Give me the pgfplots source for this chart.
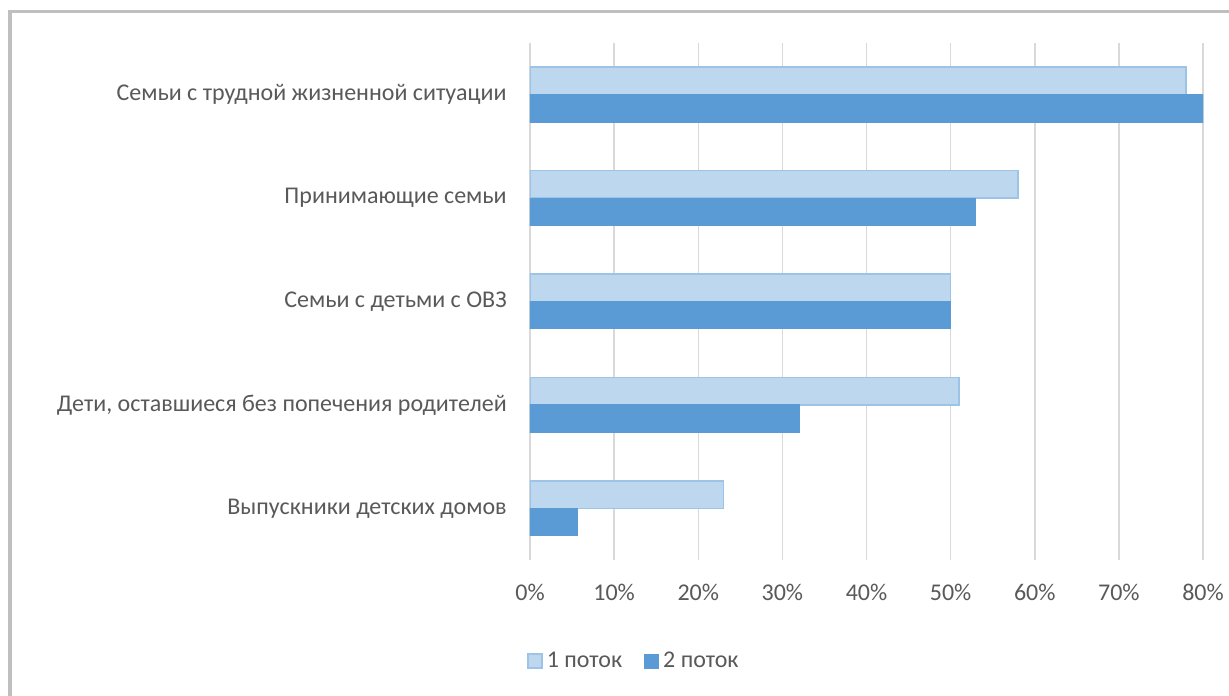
\documentclass[border=0pt]{standalone}
\usepackage{fontspec}
\setmainfont{Carlito}
\usepackage{pgfplots}
\pgfplotsset{compat=1.18}
\definecolor{lightbar}{HTML}{BDD7EE}
\definecolor{lightedge}{HTML}{9DC3E6}
\definecolor{darkbar}{HTML}{5B9BD5}
\definecolor{gridc}{HTML}{D9D9D9}
\definecolor{txt}{HTML}{595959}
\definecolor{framec}{HTML}{BFBFBF}
\begin{document}
\begin{tikzpicture}
\begin{axis}[
  xbar,
  scale only axis,
  width=336.5pt, height=258.5pt,
  at={(0,0)}, anchor=south west,
  xmin=0, xmax=80, ymin=-0.5, ymax=4.5,
  xtick={0,10,20,30,40,50,60,70,80},
  xticklabels={0\%,10\%,20\%,30\%,40\%,50\%,60\%,70\%,80\%},
  ytick={0,1,2,3,4},
  yticklabels={Выпускники детских домов,{Дети, оставшиеся без попечения родителей},Семьи с детьми с ОВЗ,Принимающие семьи,Семьи с трудной жизненной ситуации},
  axis line style={draw=none},
  major tick length=0pt,
  xmajorgrids,
  grid style={gridc, line width=0.75pt},
  xticklabel style={font=\fontsize{12}{14}\selectfont, text=txt, anchor=north, inner sep=0pt, yshift=-12pt},
  yticklabel style={font=\fontsize{12}{14}\selectfont, text=txt, anchor=east, inner sep=0pt, xshift=-11.5pt},
  bar width=13.75pt,
  legend columns=2,
  legend style={at={(rel axis cs:-0.0045,-0.1954)}, anchor=west, draw=none, fill=none,
    font=\fontsize{12}{14}\selectfont, text=txt, inner sep=0pt,
    /tikz/every even column/.append style={column sep=9pt}},
  legend image code/.code={\draw[#1] (0pt,-3.5pt) rectangle (7pt,3.5pt);},
]
\addplot[fill=lightbar, draw=lightedge, line width=0.75pt, bar shift=6.875pt]
  coordinates {(23,0) (51,1) (50,2) (58,3) (78,4)};
\addlegendentry{1 поток}
\addplot[fill=darkbar, draw=darkbar, line width=0.5pt, bar shift=-6.875pt]
  coordinates {(5.7,0) (32,1) (50,2) (53,3) (80,4)};
\addlegendentry{2 поток}
\end{axis}
\pgfresetboundingbox
\path[use as bounding box] (-265pt,-67.5pt) rectangle (349.5pt,280pt);
\draw[framec, line width=1.75pt] (-260pt,-120pt) rectangle (400pt,274.25pt);
\end{tikzpicture}
\end{document}
